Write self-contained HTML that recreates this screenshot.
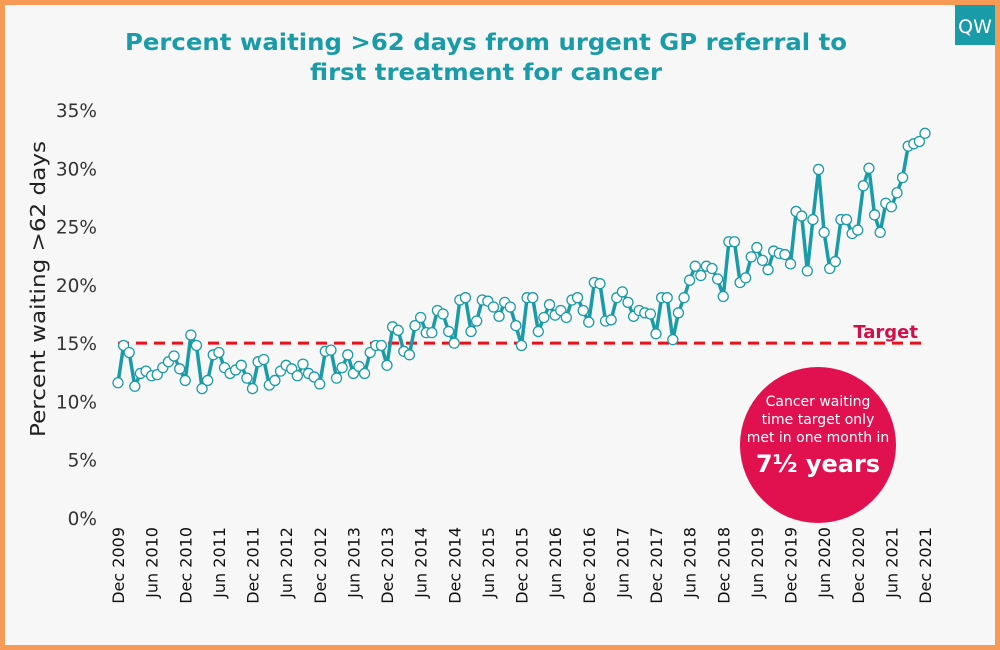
<!DOCTYPE html>
<html><head><meta charset="utf-8"><style>
body{margin:0;width:1000px;height:650px;overflow:hidden;background:#f79a55;font-family:"DejaVu Sans","Liberation Sans",sans-serif}
#frame{position:absolute;left:5px;top:5px;width:990px;height:640px;background:#f7f7f7}
</style></head><body>
<div id="frame"></div>
<svg id="chart" width="1000" height="650" style="position:absolute;left:0;top:0;font-family:'DejaVu Sans','Liberation Sans',sans-serif">
<rect x="955" y="5" width="40" height="40" fill="#1a9ba8"/>
<text x="975" y="33" text-anchor="middle" fill="#fff" font-size="19">QW</text>
<text x="486" y="50" text-anchor="middle" fill="#1a9ba8" font-size="23" font-weight="bold" textLength="722" lengthAdjust="spacingAndGlyphs">Percent waiting &gt;62 days from urgent GP referral to</text>
<text x="486" y="80" text-anchor="middle" fill="#1a9ba8" font-size="23" font-weight="bold" textLength="352" lengthAdjust="spacingAndGlyphs">first treatment for cancer</text>
<text transform="translate(45,289) rotate(-90)" text-anchor="middle" font-size="20.5" fill="#222" textLength="296" lengthAdjust="spacingAndGlyphs">Percent waiting &gt;62 days</text>
<g id="yticks"></g><g id="xticks"></g>
<line id="target" stroke="#e8101a" stroke-width="3" stroke-dasharray="11,7"/>
<text id="targetLbl" x="918" text-anchor="end" fill="#d0104a" font-size="18" font-weight="bold">Target</text>
<polyline id="line" fill="none" stroke="#1a9ba8" stroke-width="3.5"/>
<g id="pts"></g>
<circle cx="818" cy="445" r="78" fill="#e0114e"/>
<text x="818" y="406" text-anchor="middle" fill="#fff" font-size="14">Cancer waiting</text>
<text x="818" y="424" text-anchor="middle" fill="#fff" font-size="14">time target only</text>
<text x="818" y="442" text-anchor="middle" fill="#fff" font-size="14">met in one month in</text>
<text x="818" y="472" text-anchor="middle" fill="#fff" font-size="24" font-weight="bold">7½ years</text>
</svg>
<script>
const values=[11.6,14.8,14.2,11.3,12.4,12.6,12.2,12.3,12.9,13.4,13.9,12.8,
11.8,15.7,14.8,11.1,11.8,14.0,14.2,12.9,12.4,12.7,13.1,12.0,
11.1,13.4,13.6,11.4,11.8,12.6,13.1,12.8,12.2,13.2,12.4,12.1,
11.5,14.3,14.4,12.0,12.9,14.0,12.4,13.0,12.4,14.2,14.8,14.8,
13.1,16.4,16.1,14.3,14.0,16.5,17.2,15.9,15.9,17.8,17.5,16.0,
15.0,18.7,18.9,16.0,16.9,18.7,18.6,18.1,17.3,18.5,18.1,16.5,
14.8,18.9,18.9,16.0,17.2,18.3,17.4,17.8,17.2,18.7,18.9,17.8,
16.8,20.2,20.1,16.9,17.0,18.9,19.4,18.5,17.3,17.8,17.6,17.5,
15.8,18.9,18.9,15.3,17.6,18.9,20.4,21.6,20.8,21.6,21.4,20.5,
19.0,23.7,23.7,20.2,20.6,22.4,23.2,22.1,21.3,22.9,22.7,22.6,
21.8,26.3,25.9,21.2,25.6,29.9,24.5,21.4,22.0,25.6,25.6,24.4,
24.7,28.5,30.0,26.0,24.5,27.0,26.7,27.9,29.2,31.9,32.1,32.3,33.0];
const xLabels=["Dec 2009","Jun 2010","Dec 2010","Jun 2011","Dec 2011","Jun 2012","Dec 2012","Jun 2013","Dec 2013","Jun 2014","Dec 2014","Jun 2015","Dec 2015","Jun 2016","Dec 2016","Jun 2017","Dec 2017","Jun 2018","Dec 2018","Jun 2019","Dec 2019","Jun 2020","Dec 2020","Jun 2021","Dec 2021"];
const yTicks=[0,5,10,15,20,25,30,35];
const target=15;
const NS="http://www.w3.org/2000/svg";
const x=i=>118+i*(925-118)/144;
const y=v=>518-v*(518-110)/35;
const yt=document.getElementById('yticks');
yTicks.forEach(t=>{const e=document.createElementNS(NS,'text');
e.setAttribute('x',97);e.setAttribute('y',y(t)+7);e.setAttribute('text-anchor','end');e.setAttribute('font-size','18.5');e.setAttribute('fill','#333');


e.textContent=t+'%';yt.appendChild(e);});
const xt=document.getElementById('xticks');
xLabels.forEach((l,k)=>{const e=document.createElementNS(NS,'text');
e.setAttribute('transform',`translate(${x(k*6)+6},527) rotate(-90)`);e.setAttribute('text-anchor','end');e.setAttribute('font-size','16');e.setAttribute('fill','#111');


e.textContent=l;xt.appendChild(e);});
const tl=document.getElementById('target');
tl.setAttribute('x1',118);tl.setAttribute('x2',925);tl.setAttribute('y1',y(target));tl.setAttribute('y2',y(target));
document.getElementById('targetLbl').setAttribute('y',y(target)-5);
document.getElementById('line').setAttribute('points',values.map((v,i)=>x(i)+','+y(v)).join(' '));
const pg=document.getElementById('pts');
values.forEach((v,i)=>{const c=document.createElementNS(NS,'circle');
c.setAttribute('cx',x(i));c.setAttribute('cy',y(v));c.setAttribute('r',5);c.setAttribute('fill','#fff');c.setAttribute('stroke','#1a9ba8');c.setAttribute('stroke-width','1.3');


pg.appendChild(c);});
</script>
</body></html>
